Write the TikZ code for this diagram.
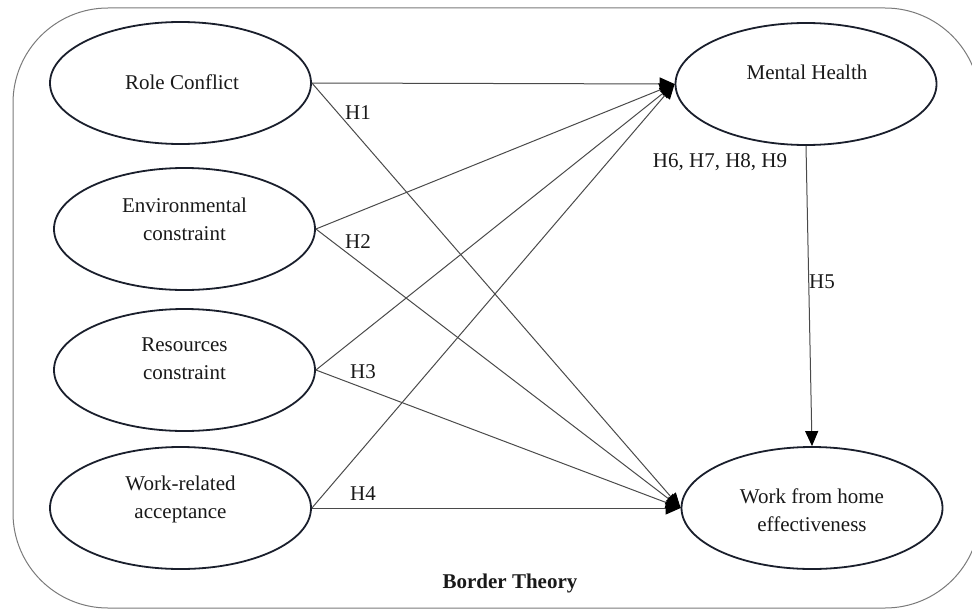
\documentclass[tikz,border=0pt]{standalone}
\usepackage{fontspec}
\setmainfont{Liberation Serif}
\usetikzlibrary{shapes.geometric,arrows.meta}
\definecolor{ovalc}{HTML}{1A1F2C}
\definecolor{connc}{HTML}{4A4A4A}
\definecolor{framec}{HTML}{7A7A7A}
\begin{document}
\begin{tikzpicture}[x=0.5pt,y=-0.5pt,
  oval/.style={draw=ovalc, line width=0.9pt, ellipse, minimum width=130.5pt, minimum height=61pt, inner sep=0pt},
  txt/.style={font=\fontsize{10.5pt}{14pt}\selectfont, align=center, inner sep=0pt, text=black!90},
  lab/.style={font=\fontsize{10.5pt}{14pt}\selectfont, inner sep=0pt, text=black!90},
  conn/.style={draw=connc, line width=0.5pt, -{Triangle[length=7.5pt,width=6.5pt,color=black]}},
]
\useasboundingbox (0,0) rectangle (972,610);
\clip (0,0) rectangle (972,610);
\draw[draw=framec, line width=0.5pt, rounded corners=47.5pt] (13,8) rectangle (980,608);

% ellipses
\node[oval] (rc) at (180.5,83) {};
\node[oval] (ec) at (184.5,229) {};
\node[oval] (rs) at (184.5,370) {};
\node[oval] (wr) at (180.5,508) {};
\node[oval] (mh) at (806,84) {};
\node[oval] (wf) at (812,508) {};

% texts
\node[txt] (rct) at (182,82) {Role Conflict};
\node[txt] (ect) at (184.5,219) {Environmental\\constraint};
\node[txt] (rst) at (184.5,359) {Resources\\constraint};
\node[txt] (wrt) at (180.5,499) {Work-related\\acceptance};
\node[txt] (mht) at (807,72) {Mental Health};
\node[txt] (wft) at (812,510) {Work from home\\effectiveness};

% connectors
\draw[conn] (rc.east) -- (mh.west);
\draw[conn] (ec.east) -- (mh.west);
\draw[conn] (rs.east) -- (mh.west);
\draw[conn] (wr.east) -- (mh.west);
\draw[conn] (rc.east) -- (wf.west);
\draw[conn] (ec.east) -- (wf.west);
\draw[conn] (rs.east) -- (wf.west);
\draw[conn] (wr.east) -- (wf.west);
\draw[conn] (mh.south) -- (wf.north);

% labels
\node[lab] (h1) at (358,113) {H1};
\node[lab] (h2) at (358,242) {H2};
\node[lab] (h3) at (363,372) {H3};
\node[lab] (h4) at (363,494) {H4};
\node[lab] (h5) at (822,282) {H5};
\node[lab] (h69) at (720,162) {H6, H7, H8, H9};
\node[lab, font=\fontsize{10.5pt}{14pt}\selectfont\bfseries] (bt) at (510,583) {Border Theory};
\end{tikzpicture}
\end{document}
